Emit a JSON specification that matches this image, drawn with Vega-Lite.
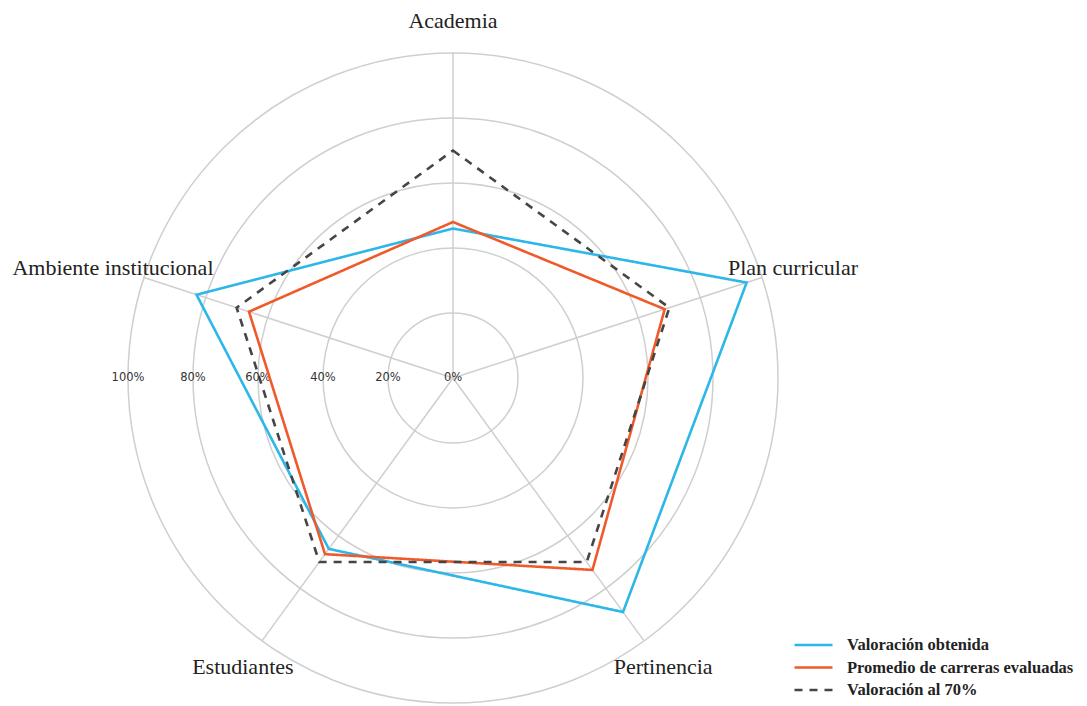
{
  "$schema": "https://vega.github.io/schema/vega-lite/v6.json",
  "width": 650,
  "height": 650,
  "autosize": {"type": "none"},
  "padding": {"left": 128, "top": 53, "right": 309, "bottom": 3},
  "background": "white",
  "config": {"view": {"stroke": null}},
  "datasets": {
    "ejes": [
      {"eje": "Academia", "orden": 0},
      {"eje": "Plan curricular", "orden": 1},
      {"eje": "Pertinencia", "orden": 2},
      {"eje": "Estudiantes", "orden": 3},
      {"eje": "Ambiente institucional", "orden": 4}
    ],
    "anillos": [
      {"r": 0, "etiqueta": "0%"},
      {"r": 20, "etiqueta": "20%"},
      {"r": 40, "etiqueta": "40%"},
      {"r": 60, "etiqueta": "60%"},
      {"r": 80, "etiqueta": "80%"},
      {"r": 100, "etiqueta": "100%"}
    ],
    "valores": [
      {"serie": "Valoración obtenida", "eje": "Academia", "orden": 0, "valor": 46},
      {"serie": "Valoración obtenida", "eje": "Plan curricular", "orden": 1, "valor": 95},
      {"serie": "Valoración obtenida", "eje": "Pertinencia", "orden": 2, "valor": 89},
      {"serie": "Valoración obtenida", "eje": "Estudiantes", "orden": 3, "valor": 65},
      {"serie": "Valoración obtenida", "eje": "Ambiente institucional", "orden": 4, "valor": 83},
      {"serie": "Promedio de carreras evaluadas", "eje": "Academia", "orden": 0, "valor": 48},
      {"serie": "Promedio de carreras evaluadas", "eje": "Plan curricular", "orden": 1, "valor": 68.5},
      {"serie": "Promedio de carreras evaluadas", "eje": "Pertinencia", "orden": 2, "valor": 73},
      {"serie": "Promedio de carreras evaluadas", "eje": "Estudiantes", "orden": 3, "valor": 67},
      {"serie": "Promedio de carreras evaluadas", "eje": "Ambiente institucional", "orden": 4, "valor": 66},
      {"serie": "Valoración al 70%", "eje": "Academia", "orden": 0, "valor": 70},
      {"serie": "Valoración al 70%", "eje": "Plan curricular", "orden": 1, "valor": 70},
      {"serie": "Valoración al 70%", "eje": "Pertinencia", "orden": 2, "valor": 70},
      {"serie": "Valoración al 70%", "eje": "Estudiantes", "orden": 3, "valor": 70},
      {"serie": "Valoración al 70%", "eje": "Ambiente institucional", "orden": 4, "valor": 70}
    ]
  },
  "layer": [
    {
      "data": {"name": "anillos"},
      "transform": [{"filter": "datum.r > 0"}],
      "mark": {"type": "point", "shape": "circle", "filled": false, "stroke": "#cfcfcf", "strokeWidth": 1.5, "opacity": 1},
      "encoding": {
        "x": {"datum": 0, "type": "quantitative", "scale": {"domain": [-100, 100], "nice": false, "zero": false}, "axis": null},
        "y": {"datum": 0, "type": "quantitative", "scale": {"domain": [-100, 100], "nice": false, "zero": false}, "axis": null},
        "size": {"field": "r", "type": "quantitative", "scale": {"type": "pow", "exponent": 2, "domain": [0, 100], "range": [0, 422500], "zero": true, "nice": false}, "legend": null}
      }
    },
    {
      "data": {"name": "ejes"},
      "transform": [
        {"calculate": "0", "as": "x0"},
        {"calculate": "100 * sin(datum.orden * 2 * PI / 5)", "as": "xe"},
        {"calculate": "100 * cos(datum.orden * 2 * PI / 5)", "as": "ye"}
      ],
      "mark": {"type": "rule", "stroke": "#cfcfcf", "strokeWidth": 1.5},
      "encoding": {
        "x": {"field": "x0", "type": "quantitative"},
        "y": {"field": "x0", "type": "quantitative"},
        "x2": {"field": "xe"},
        "y2": {"field": "ye"}
      }
    },
    {
      "data": {"name": "anillos"},
      "transform": [{"calculate": "-datum.r", "as": "xr"}, {"calculate": "0", "as": "yr"}],
      "mark": {"type": "text", "font": "DejaVu Sans", "fontSize": 11.5, "fill": "#333333", "align": "center", "baseline": "middle"},
      "encoding": {
        "x": {"field": "xr", "type": "quantitative"},
        "y": {"field": "yr", "type": "quantitative"},
        "text": {"field": "etiqueta"}
      }
    },
    {
      "data": {"name": "valores"},
      "transform": [
        {"calculate": "datum.valor * sin(datum.orden * 2 * PI / 5)", "as": "px"},
        {"calculate": "datum.valor * cos(datum.orden * 2 * PI / 5)", "as": "py"}
      ],
      "mark": {"type": "line", "interpolate": "linear-closed", "strokeWidth": 2.6},
      "encoding": {
        "x": {"field": "px", "type": "quantitative"},
        "y": {"field": "py", "type": "quantitative"},
        "order": {"field": "orden", "type": "quantitative"},
        "color": {
          "field": "serie", "type": "nominal",
          "scale": {"domain": ["Valoración obtenida", "Promedio de carreras evaluadas", "Valoración al 70%"], "range": ["#2DB7E9", "#F05A2B", "#454545"]},
          "legend": {
            "title": null, "orient": "none", "legendX": 665, "legendY": 584,
            "symbolType": "stroke", "symbolSize": 1444, "symbolStrokeWidth": 2.6,
            "labelFont": "Liberation Serif", "labelFontWeight": "bold", "labelFontSize": 16.5, "labelColor": "#222222", "labelLimit": 400,
            "clipHeight": 16, "rowPadding": 5.5, "labelOffset": 13
          }
        },
        "strokeDash": {
          "field": "serie", "type": "nominal",
          "scale": {"domain": ["Valoración obtenida", "Promedio de carreras evaluadas", "Valoración al 70%"], "range": [[1, 0], [1, 0], [8, 7]]},
          "legend": {
            "title": null, "orient": "none", "legendX": 665, "legendY": 584,
            "symbolType": "stroke", "symbolSize": 1444, "symbolStrokeWidth": 2.6,
            "labelFont": "Liberation Serif", "labelFontWeight": "bold", "labelFontSize": 16.5, "labelColor": "#222222", "labelLimit": 400,
            "clipHeight": 16, "rowPadding": 5.5, "labelOffset": 13
          }
        }
      }
    },
    {
      "data": {"name": "ejes"},
      "transform": [
        {"calculate": "110 * sin(datum.orden * 2 * PI / 5)", "as": "lx"},
        {"calculate": "110 * cos(datum.orden * 2 * PI / 5)", "as": "ly"}
      ],
      "mark": {"type": "text", "font": "Liberation Serif", "fontSize": 22, "fill": "#222222", "align": "center", "baseline": "middle"},
      "encoding": {
        "x": {"field": "lx", "type": "quantitative"},
        "y": {"field": "ly", "type": "quantitative"},
        "text": {"field": "eje"}
      }
    }
  ]
}
